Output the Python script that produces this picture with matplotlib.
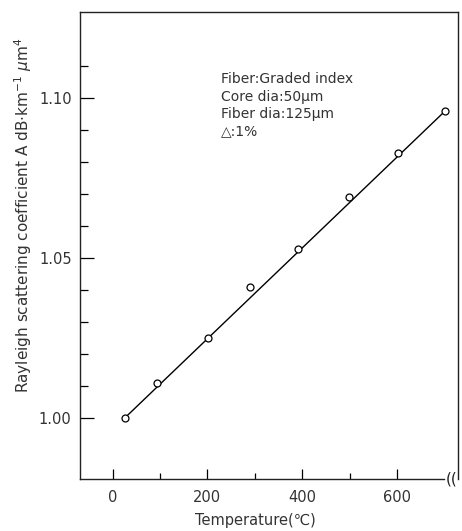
import matplotlib
matplotlib.use("Agg")
import matplotlib.pyplot as plt
from matplotlib.ticker import FixedLocator, NullFormatter

# Measured Rayleigh scattering coefficient vs. heat-treatment temperature
temperature_c = [25, 94, 202, 289, 392, 499, 602, 702]
rayleigh_a = [1.000, 1.011, 1.025, 1.041, 1.053, 1.069, 1.083, 1.096]

# Linear fit drawn through the data
fit_temperature = [25, 702]
fit_rayleigh = [1.000, 1.096]

x_major = [0, 200, 400, 600]
x_minor = [100, 300, 500]
y_major = [1.00, 1.05, 1.10]
y_major_labels = ["1.00", "1.05", "1.10"]
y_minor = [1.01, 1.02, 1.03, 1.04, 1.06, 1.07, 1.08, 1.09, 1.11]

fiber_notes = ["Fiber:Graded index", "Core dia:50μm", "Fiber dia:125μm", "△:1%"]

plt.rcParams["font.family"] = ["DejaVu Sans"]

fig = plt.figure(figsize=(4.62, 5.31), dpi=100)
ax = fig.add_axes([0.1732, 0.0979, 0.8181, 0.8795])

ax.plot(fit_temperature, fit_rayleigh, color="black", lw=1.0, zorder=2)
ax.plot(temperature_c, rayleigh_a, "o", ms=5, mfc="white", mec="black",
        mew=0.9, zorder=3)

ax.set_xlim(-69, 729)
ax.set_ylim(0.981, 1.1269)

ax.xaxis.set_major_locator(FixedLocator(x_major))
ax.xaxis.set_minor_locator(FixedLocator(x_minor))
ax.yaxis.set_major_locator(FixedLocator(y_major))
ax.yaxis.set_minor_locator(FixedLocator(y_minor))
ax.set_yticklabels(y_major_labels)
ax.yaxis.set_minor_formatter(NullFormatter())

ax.tick_params(axis="both", which="both", direction="in", color="black",
               width=0.9, labelsize=10.5, labelcolor="#333333")
ax.tick_params(axis="x", which="major", length=7, pad=8)
ax.tick_params(axis="x", which="minor", length=4)
ax.tick_params(axis="y", which="major", length=10, pad=6)
ax.tick_params(axis="y", which="minor", length=6)

for side in ("left", "right", "top", "bottom"):
    ax.spines[side].set_linewidth(1.0)
    ax.spines[side].set_color("#222222")

# Axis break on the temperature axis near its right end
ax.spines["bottom"].set_bounds(-69, 700)
ax.text(715, 0.981, "((", fontsize=11, ha="center", va="center",
        color="#222222")

ax.text(229, 1.108, "\n".join(fiber_notes), fontsize=10, va="top",
        ha="left", linespacing=1.3, color="#333333")

fig.text(0.552, 0.019, "Temperature(\u2103)", fontsize=10.5, ha="center",
         va="center", color="#333333")
fig.text(0.050, 0.595,
         "Rayleigh scattering coefficient A dB$\\cdot$km$^{-1}$ $\\mu$m$^{4}$",
         rotation=90, fontsize=11, ha="center", va="center",
         color="#333333")

fig.savefig("out.png", dpi=100)
